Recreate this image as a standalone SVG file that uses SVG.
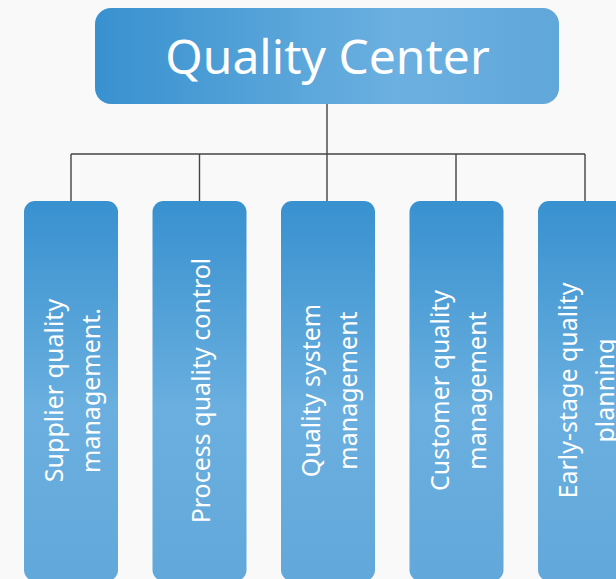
<svg xmlns="http://www.w3.org/2000/svg" width="616" height="579" viewBox="0 0 616 579">
<defs>
<linearGradient id="gTop" x1="0" y1="0" x2="1" y2="0">
<stop offset="0" stop-color="#3891cf"/>
<stop offset="0.65" stop-color="#6bb0e0"/>
<stop offset="1" stop-color="#60a7da"/>
</linearGradient>
<linearGradient id="gBox" x1="0" y1="0" x2="0" y2="1">
<stop offset="0" stop-color="#3891cf"/>
<stop offset="0.55" stop-color="#6aafdf"/>
<stop offset="1" stop-color="#62a8da"/>
</linearGradient>
<style>
.box{fill:url(#gBox);}
.lbl{font-family:"Noto Sans","DejaVu Sans",sans-serif;font-size:25px;fill:#ffffff;text-anchor:middle;}
.conn{stroke:#444444;stroke-width:1.4;fill:none;}
</style>
</defs>
<rect width="616" height="579" fill="#f9f9f9"/>
<g id="connectors">
<path class="conn" d="M327 104 V154 M71 154 H585 M71 154 V201 M199.5 154 V201 M327 154 V201 M456 154 V201 M585 154 V201"/>
</g>
<g id="root">
<rect x="95" y="8" width="464" height="96" rx="16" fill="url(#gTop)"/>
<text x="327.5" y="74" font-family="Noto Sans, DejaVu Sans, sans-serif" font-size="48" fill="#ffffff" text-anchor="middle">Quality Center</text>
</g>
<g id="n1">
<rect class="box" x="24" y="201" width="94" height="380" rx="11"/>
<text class="lbl" transform="translate(71 390.5) rotate(-90)"><tspan x="0" y="-8">Supplier quality</tspan><tspan x="0" y="29">management.</tspan></text>
</g>
<g id="n2">
<rect class="box" x="152.5" y="201" width="94" height="380" rx="11"/>
<text class="lbl" transform="translate(199.5 390.5) rotate(-90)"><tspan x="0" y="10">Process quality control</tspan></text>
</g>
<g id="n3">
<rect class="box" x="281" y="201" width="94" height="380" rx="11"/>
<text class="lbl" transform="translate(328 390.5) rotate(-90)"><tspan x="0" y="-8">Quality system</tspan><tspan x="0" y="29">management</tspan></text>
</g>
<g id="n4">
<rect class="box" x="409.5" y="201" width="94" height="380" rx="11"/>
<text class="lbl" transform="translate(456.5 390.5) rotate(-90)"><tspan x="0" y="-8">Customer quality</tspan><tspan x="0" y="29">management</tspan></text>
</g>
<g id="n5">
<rect class="box" x="538" y="201" width="94" height="380" rx="11"/>
<text class="lbl" transform="translate(585 390.5) rotate(-90)"><tspan x="0" y="-8">Early-stage quality</tspan><tspan x="0" y="29">planning</tspan></text>
</g>
</svg>
